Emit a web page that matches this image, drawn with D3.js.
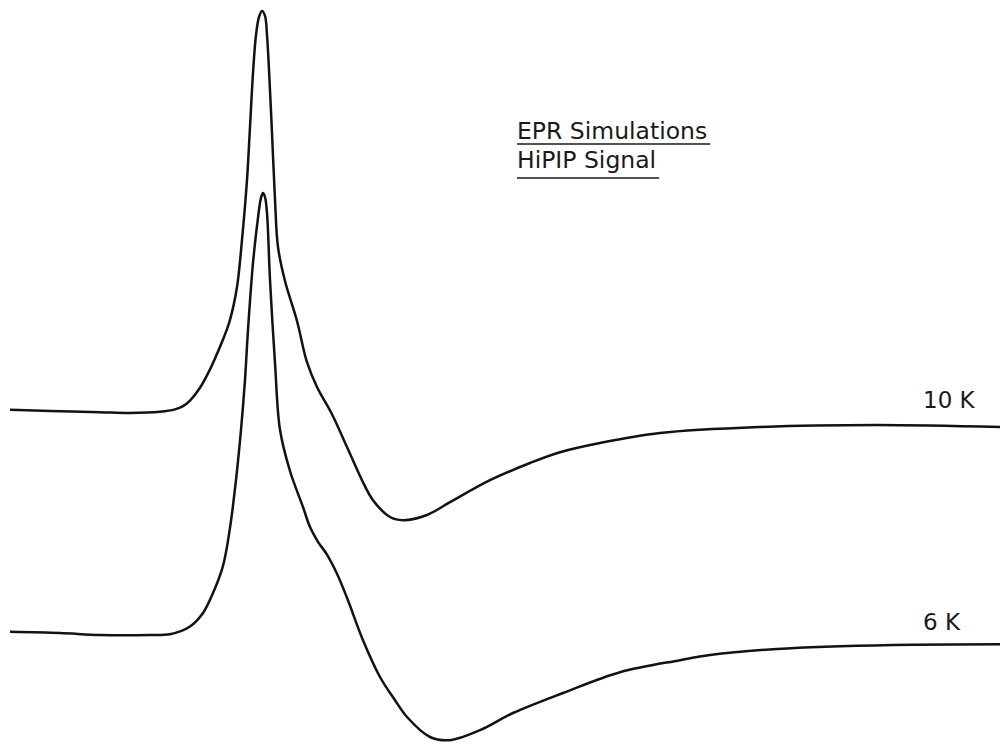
<!DOCTYPE html>
<html>
<head>
<meta charset="utf-8">
<script src="https://cdn.jsdelivr.net/npm/d3@7"></script>
<style>
  html, body { margin: 0; padding: 0; background: #fff; }
  svg { display: block; }
  .lbl { font-family: "DejaVu Sans", sans-serif; fill: #1a1a1a; }
</style>
</head>
<body>
<div id="graph"></div>
<script>
// Champ (unités arbitraires) et signal (dérivée, unités arbitraires) pour chaque trace
const field10K = [0, 4, 9, 12, 15, 16.5, 17.3, 18, 19, 20, 20.7, 21.4, 22, 22.7, 23.2, 23.7, 24, 24.3, 24.6, 24.9, 25.2, 25.5, 25.7, 25.9, 26.2, 26.5, 26.8, 27.5, 28.7, 29.7, 30.7, 32.2, 33.7, 35.2, 36.3, 38, 39.3, 41.7, 44, 48, 52, 55, 59, 65, 75, 86.7, 99]
const signal10K = [0.003, 0, -0.003, -0.005, -0.002, 0.004, 0.012, 0.026, 0.058, 0.104, 0.143, 0.185, 0.228, 0.310, 0.428, 0.578, 0.710, 0.845, 0.940, 0.985, 1.000, 0.988, 0.940, 0.853, 0.695, 0.528, 0.410, 0.325, 0.225, 0.122, 0.060, -0.008, -0.090, -0.173, -0.223, -0.265, -0.273, -0.260, -0.228, -0.173, -0.130, -0.103, -0.080, -0.055, -0.040, -0.035, -0.040]

const field6K = [0, 5, 9, 14, 16, 17, 18, 19.3, 20.3, 21.3, 22, 22.6, 23.1, 23.5, 23.8, 24.3, 24.8, 25.1, 25.3, 25.5, 25.7, 26, 26.5, 27, 28, 29.3, 30, 30.8, 31.7, 32.7, 33.7, 35.3, 37, 38.5, 39.7, 42, 44, 47, 50.3, 55.3, 61, 67, 70, 76.7, 88.3, 99]
const signal6K = [0.003, 0, -0.005, -0.005, -0.003, 0.004, 0.016, 0.050, 0.100, 0.168, 0.263, 0.383, 0.508, 0.633, 0.758, 0.925, 1.038, 1.088, 1.100, 1.090, 1.050, 0.883, 0.675, 0.508, 0.405, 0.315, 0.265, 0.228, 0.196, 0.148, 0.088, -0.018, -0.110, -0.168, -0.210, -0.260, -0.268, -0.243, -0.200, -0.150, -0.098, -0.068, -0.055, -0.040, -0.030, -0.028]

// Noms des traces et décalage vertical
const traceNames = ["10 K", "6 K"]
const traceOffsets = [0.555, 0]

const titleLines = ["EPR Simulations", "HiPIP Signal"]

const traces = [
    { name: traceNames[0], offset: traceOffsets[0], points: field10K.map((f, i) => [f, signal10K[i]]) },
    { name: traceNames[1], offset: traceOffsets[1], points: field6K.map((f, i) => [f, signal6K[i]]) }
]

const width = 1007, height = 745

const svg = d3.select("#graph")
    .append("svg")
    .attr("width", width)
    .attr("height", height)

// Echelles
const x = d3.scaleLinear().domain([0, 99]).range([10, 1000])
const y = d3.scaleLinear().domain([-0.3, 1.55]).range([753, 13])

const line = d3.line()
    .x(d => x(d[0]))
    .y(d => y(d[1]))
    .curve(d3.curveCatmullRom.alpha(0.5))

// Traces
svg.append("g")
    .selectAll("path")
    .data(traces)
    .join("path")
    .attr("d", t => line(t.points.map(p => [p[0], p[1] + t.offset])))
    .attr("fill", "none")
    .attr("stroke", "#121212")
    .attr("stroke-width", 2.5)
    .attr("stroke-linejoin", "round")

// Etiquettes de température
svg.append("g")
    .selectAll("text")
    .data(traces)
    .join("text")
    .attr("class", "lbl")
    .attr("x", x(91.3))
    .attr("y", t => y(t.offset) - 3)
    .attr("font-size", 23)
    .text(t => t.name)

// Titre souligné
const title = svg.append("g").attr("transform", "translate(517,0)")
titleLines.forEach((txt, i) => {
    const t = title.append("text")
        .attr("class", "lbl")
        .attr("x", 0)
        .attr("y", 139 + i * 29)
        .attr("font-size", 23.5)
        .text(txt)
    const w = t.node().getComputedTextLength()
    title.append("line")
        .attr("x1", 0)
        .attr("x2", w + 3)
        .attr("y1", 144 + i * 34)
        .attr("y2", 144 + i * 34)
        .attr("stroke", "#1a1a1a")
        .attr("stroke-width", 1.6)
})
</script>
</body>
</html>
